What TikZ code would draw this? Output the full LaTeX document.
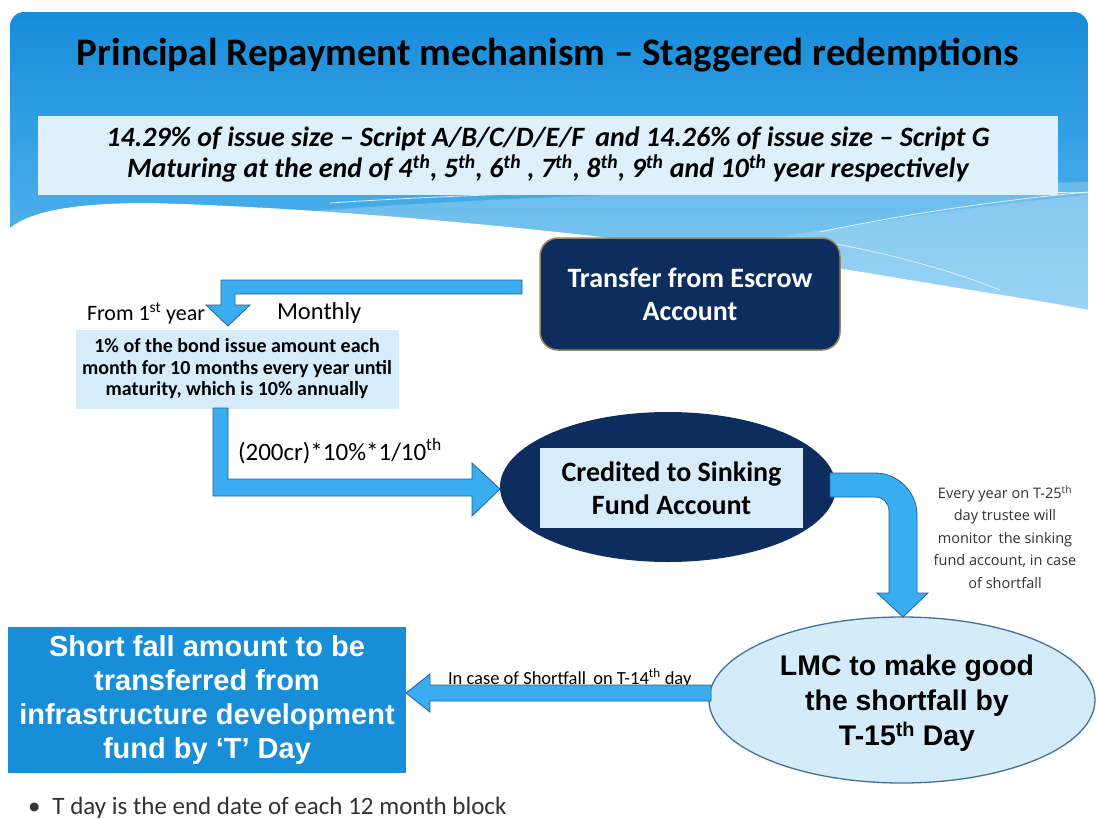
\documentclass[tikz,border=0pt]{standalone}
\usepackage{fontspec}
\setmainfont{Carlito}
\newfontfamily\arialf{Liberation Sans}
\newfontfamily\opensf{Open Sans}
\usetikzlibrary{shapes.geometric,calc}
\definecolor{hdrtop}{RGB}{22,140,218}
\definecolor{hdrbot}{RGB}{100,192,242}
\definecolor{navy}{RGB}{12,45,94}
\definecolor{paleblue}{RGB}{221,240,251}
\definecolor{boxblue}{RGB}{214,236,251}
\definecolor{arrowblue}{RGB}{58,172,240}
\definecolor{arrowline}{RGB}{30,100,160}
\definecolor{midblue}{RGB}{24,142,216}
\definecolor{lmcfill}{RGB}{212,235,250}
\definecolor{lmcline}{RGB}{65,113,156}
\definecolor{txtgray}{RGB}{50,50,50}
\newcommand\fsz[2]{\fontsize{#1}{#2}\selectfont}
\tikzset{
  bigarrow/.style={fill=arrowblue,draw=arrowline,line width=0.8pt,line join=miter},
  plain/.style={inner sep=0pt,outer sep=0pt,align=center},
}
\begin{document}
\begin{tikzpicture}[x=1pt,y=-1pt]
\useasboundingbox (0,0) rectangle (1096,819);
\fill[white] (0,0) rectangle (1096,819);
% header background
\shade[top color=hdrtop,bottom color=hdrbot,rounded corners=14] (10,12) rectangle (1088,330);
% lighter wave band
\fill[white,opacity=0.22] (300,212) .. controls (550,192) and (850,188) .. (1088,182) -- (1088,330) -- (300,330) -- cycle;
\fill[white,opacity=0.18] (700,250) .. controls (850,225) and (980,205) .. (1088,195) -- (1088,330) -- (700,330) -- cycle;
% white lines
\draw[white,line width=0.8pt,opacity=0.8] (330,203) .. controls (600,185) and (900,190) .. (1088,193);
\draw[white,line width=0.8pt,opacity=0.8] (820,232) .. controls (900,215) and (1000,200) .. (1088,192);
\draw[white,line width=0.8pt,opacity=0.7] (800,238) .. controls (880,250) and (950,270) .. (1000,290);
% white lower region (wave)
\fill[white] (10,228) .. controls (30,212) and (70,203) .. (150,203)
  .. controls (400,210) and (700,245) .. (880,275)
  .. controls (980,292) and (1050,302) .. (1088,310) -- (1090,335) -- (5,335) -- cycle;
% title
\node[plain,font=\bfseries\fsz{39}{44}] (title) at (548,55) {Principal Repayment mechanism -- Staggered redemptions};
% subtitle box
\node[plain,fill=paleblue,minimum width=1020,minimum height=79,font=\bfseries\itshape\fsz{28}{31}] (sub) at (548,155)
  {14.29\% of issue size -- Script A/B/C/D/E/F\, and 14.26\% of issue size -- Script G\\
   Maturing at the end of 4\textsuperscript{th}, 5\textsuperscript{th}, 6\textsuperscript{th} , 7\textsuperscript{th}, 8\textsuperscript{th}, 9\textsuperscript{th} and 10\textsuperscript{th} year respectively};
% escrow box
\node[plain,fill=navy,draw={rgb,255:red,150;green,135;blue,95},line width=1.5pt,rounded corners=18,minimum width=300,minimum height=112,text=white,font=\bfseries\fsz{28}{33}] (escrow) at (690,294) {Transfer from Escrow\\Account};
% monthly box
\node[plain,fill=boxblue,minimum width=323,minimum height=79,font=\bfseries\fsz{20}{21.5}] (month) at (237,369)
  {1\% of the bond issue amount each\\month for 10 months every year until\\maturity, which is 10\% annually};
\node[plain,anchor=base west,font=\fsz{22}{24}] (from) at (87,320) {From 1\textsuperscript{st} year};
\node[plain,anchor=base west,font=\fsz{24.5}{26}] (monthly) at (277,319) {Monthly};
% sinking ellipse
\node[ellipse,fill=navy,minimum width=336,minimum height=150,inner sep=0pt] (sink) at (668,487) {};
\node[plain,fill=boxblue,minimum width=263,minimum height=80,font=\bfseries\fsz{28}{33}] (sinkin) at (671.5,488) {Credited to Sinking\\Fund Account};
\node[plain,anchor=base west,font=\fsz{25}{26}] (calc) at (238,460) {(200cr)*10\%*1/10\textsuperscript{th}};
% LMC ellipse
\node[ellipse,fill=lmcfill,draw=lmcline,line width=1.3pt,minimum width=386,minimum height=166,inner sep=0pt] (lmc) at (902,700) {};
\node[plain,font=\arialf\bfseries\fsz{28.4}{35}] (lmctext) at (907,703) {LMC to make good\\the shortfall by\\T-15\textsuperscript{th} Day};
% shortfall box
\node[plain,fill=midblue,minimum width=398,minimum height=146,text=white,font=\arialf\bfseries\fsz{29}{34}] (short) at (207,700)
  {Short fall amount to be\\transferred from\\infrastructure development\\fund by ‘T’ Day};
% every year text
\node[plain,text=txtgray,font=\opensf\fsz{14.5}{22.5}] (every) at (1005,537) {Every year on T-25\textsuperscript{th}\\day trustee will\\monitor\, the sinking\\fund account, in case\\of shortfall};
% shortfall label
\node[plain,anchor=base west,font=\fsz{18.5}{20}] (inc) at (448,684) {In case of Shortfall\, on T-14\textsuperscript{th} day};
% bullet
\node[plain,anchor=base west,text=txtgray,font=\fsz{25}{26}] (bullet) at (28,814) {\textbullet\hspace{12pt}T day is the end date of each 12 month block};
% arrow 1: escrow -> monthly box
\draw[bigarrow] (522,280) -- (522,294) -- (235,294) -- (235,305) -- (250,305) -- (228,326) -- (206,305) -- (221,305) -- (221,280) -- cycle;
% arrow 2: monthly box -> sink
\draw[bigarrow] (213,408) -- (228,408) -- (228,479) -- (472,479) -- (472,463) -- (500,489) -- (472,516) -- (472,496) -- (213,496) -- cycle;
% arrow 3: sink -> lmc (curved)
\draw[bigarrow] (830,473) -- (875,473) .. controls (898,473) and (917,492) .. (917,515) -- (917,593) -- (928,593) -- (903,617) -- (877,593) -- (889,593) -- (889,511) .. controls (889,503) and (883,497) .. (875,497) -- (830,497) -- cycle;
% arrow 4: lmc -> shortfall box
\draw[bigarrow] (711,685) -- (430,685) -- (430,674) -- (406,693) -- (430,712) -- (430,701) -- (711,701) -- cycle;
\end{tikzpicture}
\end{document}
